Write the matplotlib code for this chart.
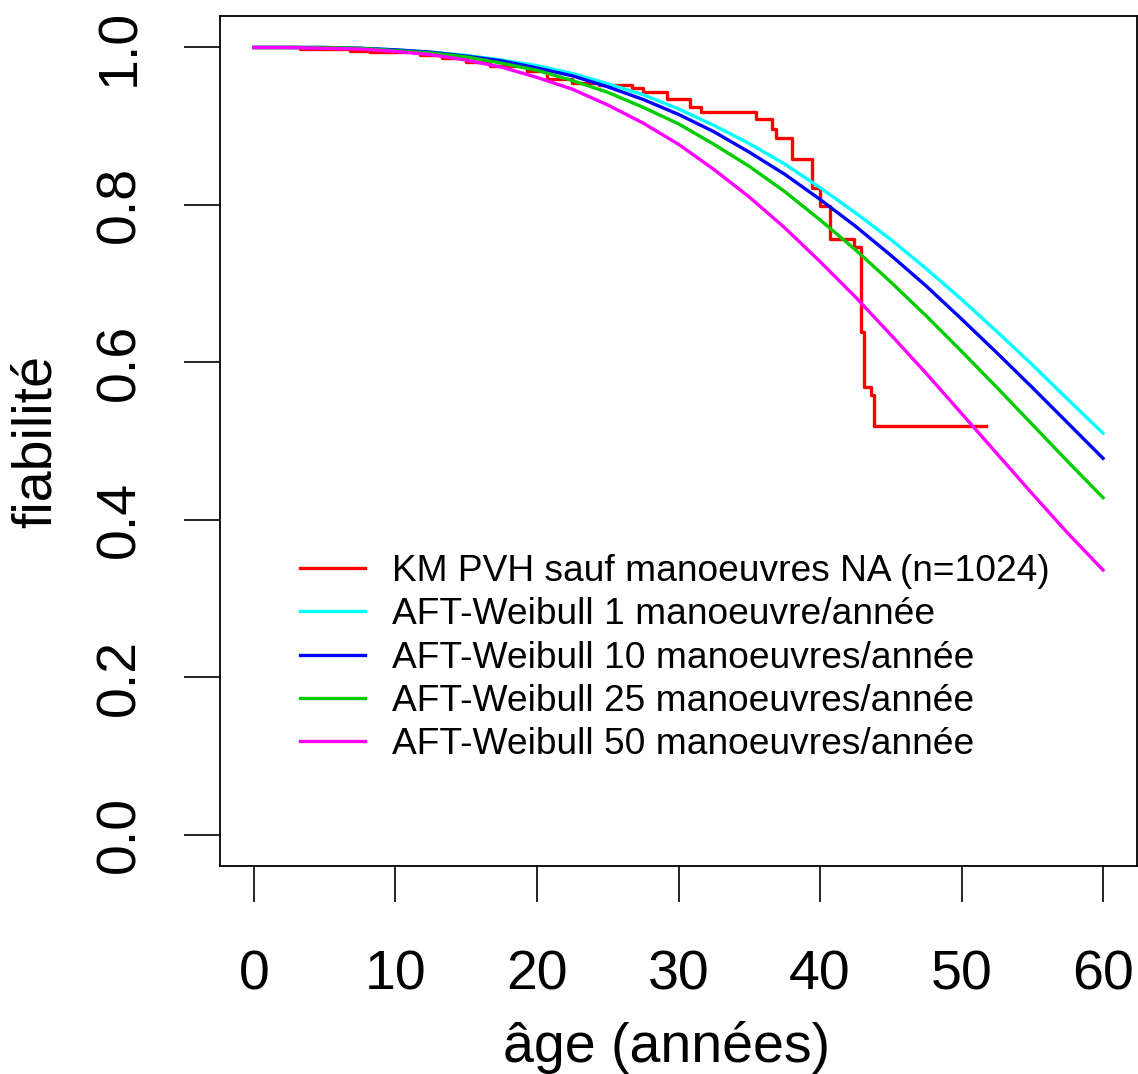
import matplotlib
matplotlib.use("Agg")
import matplotlib.pyplot as plt

plt.rcParams['font.family'] = ['Liberation Sans', 'DejaVu Sans']

# Kaplan-Meier estimate: step times (years) and survival after each step
km_time = [0, 3.25, 6.8, 8.2, 11.7, 13.3, 15.0, 16.7, 19.3, 20.7, 22.5, 24.4,
           26.7, 27.5, 29.2, 30.8, 31.6, 35.5, 36.6, 36.9, 38.0, 39.4, 40.0,
           40.7, 42.4, 42.9, 43.1, 43.6, 43.8]
km_surv = [1.0, 0.9975, 0.996, 0.994, 0.991, 0.987, 0.982, 0.976, 0.970, 0.960,
           0.955, 0.952, 0.948, 0.944, 0.935, 0.925, 0.918, 0.909, 0.896, 0.885,
           0.858, 0.822, 0.799, 0.757, 0.746, 0.638, 0.569, 0.558, 0.519]
km_end = 51.7

# AFT-Weibull survival curves, sampled every 2.5 years
age = [0, 2.5, 5, 7.5, 10, 12.5, 15, 17.5, 20, 22.5, 25, 27.5, 30, 32.5, 35,
       37.5, 40, 42.5, 45, 47.5, 50, 52.5, 55, 57.5, 60]
s_1 = [1.000, 1.000, 1.000, 0.999, 0.997, 0.994, 0.990, 0.984, 0.977, 0.967,
       0.954, 0.940, 0.922, 0.901, 0.878, 0.852, 0.822, 0.790, 0.756, 0.719,
       0.680, 0.639, 0.597, 0.553, 0.510]
s_10 = [1.000, 1.000, 1.000, 0.999, 0.997, 0.994, 0.989, 0.983, 0.974, 0.964,
        0.950, 0.934, 0.915, 0.893, 0.867, 0.839, 0.807, 0.773, 0.736, 0.697,
        0.655, 0.612, 0.568, 0.523, 0.478]
s_25 = [1.000, 1.000, 1.000, 0.999, 0.996, 0.993, 0.988, 0.980, 0.971, 0.958,
        0.943, 0.924, 0.903, 0.877, 0.849, 0.817, 0.781, 0.743, 0.702, 0.659,
        0.614, 0.568, 0.521, 0.474, 0.428]
s_50 = [1.000, 1.000, 0.999, 0.998, 0.995, 0.991, 0.984, 0.975, 0.962, 0.947,
        0.927, 0.904, 0.877, 0.845, 0.810, 0.771, 0.728, 0.683, 0.635, 0.586,
        0.535, 0.484, 0.433, 0.383, 0.336]

labels = ["KM PVH sauf manoeuvres NA (n=1024)",
          "AFT-Weibull 1 manoeuvre/année",
          "AFT-Weibull 10 manoeuvres/année",
          "AFT-Weibull 25 manoeuvres/année",
          "AFT-Weibull 50 manoeuvres/année"]
colors = ["#FF0000", "#00FFFF", "#0000FF", "#00CD00", "#FF00FF"]

W, H = 1138, 1074
fig = plt.figure(figsize=(W / 100, H / 100), dpi=100)
ax = fig.add_axes([220 / W, 1 - 866 / H, 917 / W, 850 / H])

lw = 2.4
ax.step(km_time + [km_end], km_surv + [km_surv[-1]], where='post',
        color=colors[0], lw=lw, label=labels[0])
for s, c, lab in zip([s_1, s_10, s_25, s_50], colors[1:], labels[1:]):
    ax.plot(age, s, color=c, lw=lw, label=lab)

# R-style axis ranges: 4% padding around the data
ax.set_xlim(-2.4, 62.4)
ax.set_ylim(-0.04, 1.04)
ax.set_xticks([0, 10, 20, 30, 40, 50, 60])
ax.set_yticks([0.0, 0.2, 0.4, 0.6, 0.8, 1.0])
ax.set_yticklabels(["0.0", "0.2", "0.4", "0.6", "0.8", "1.0"])

for sp in ax.spines.values():
    sp.set_linewidth(1.3)
ax.tick_params(axis='both', direction='out', length=26, width=1.2,
               labelsize=40, colors='black')
ax.tick_params(axis='x', pad=34)
ax.tick_params(axis='y', pad=27, labelrotation=90)
for t in ax.get_yticklabels():
    t.set_va('center')

ax.set_xlabel("âge (années)", fontsize=40, labelpad=14)
ax.xaxis.label.set_x(0.4875)
ax.set_ylabel("fiabilité", fontsize=40, va='center')
ax.yaxis.set_label_coords((37 - 220) / 917, 0.5)

ax.legend(loc='upper left', bbox_to_anchor=(0.087, 0.367), frameon=False,
          fontsize=26.7, handlelength=1.75, handletextpad=0.75,
          labelspacing=0.225, borderpad=0, borderaxespad=0)

fig.savefig("out.png", dpi=100)
